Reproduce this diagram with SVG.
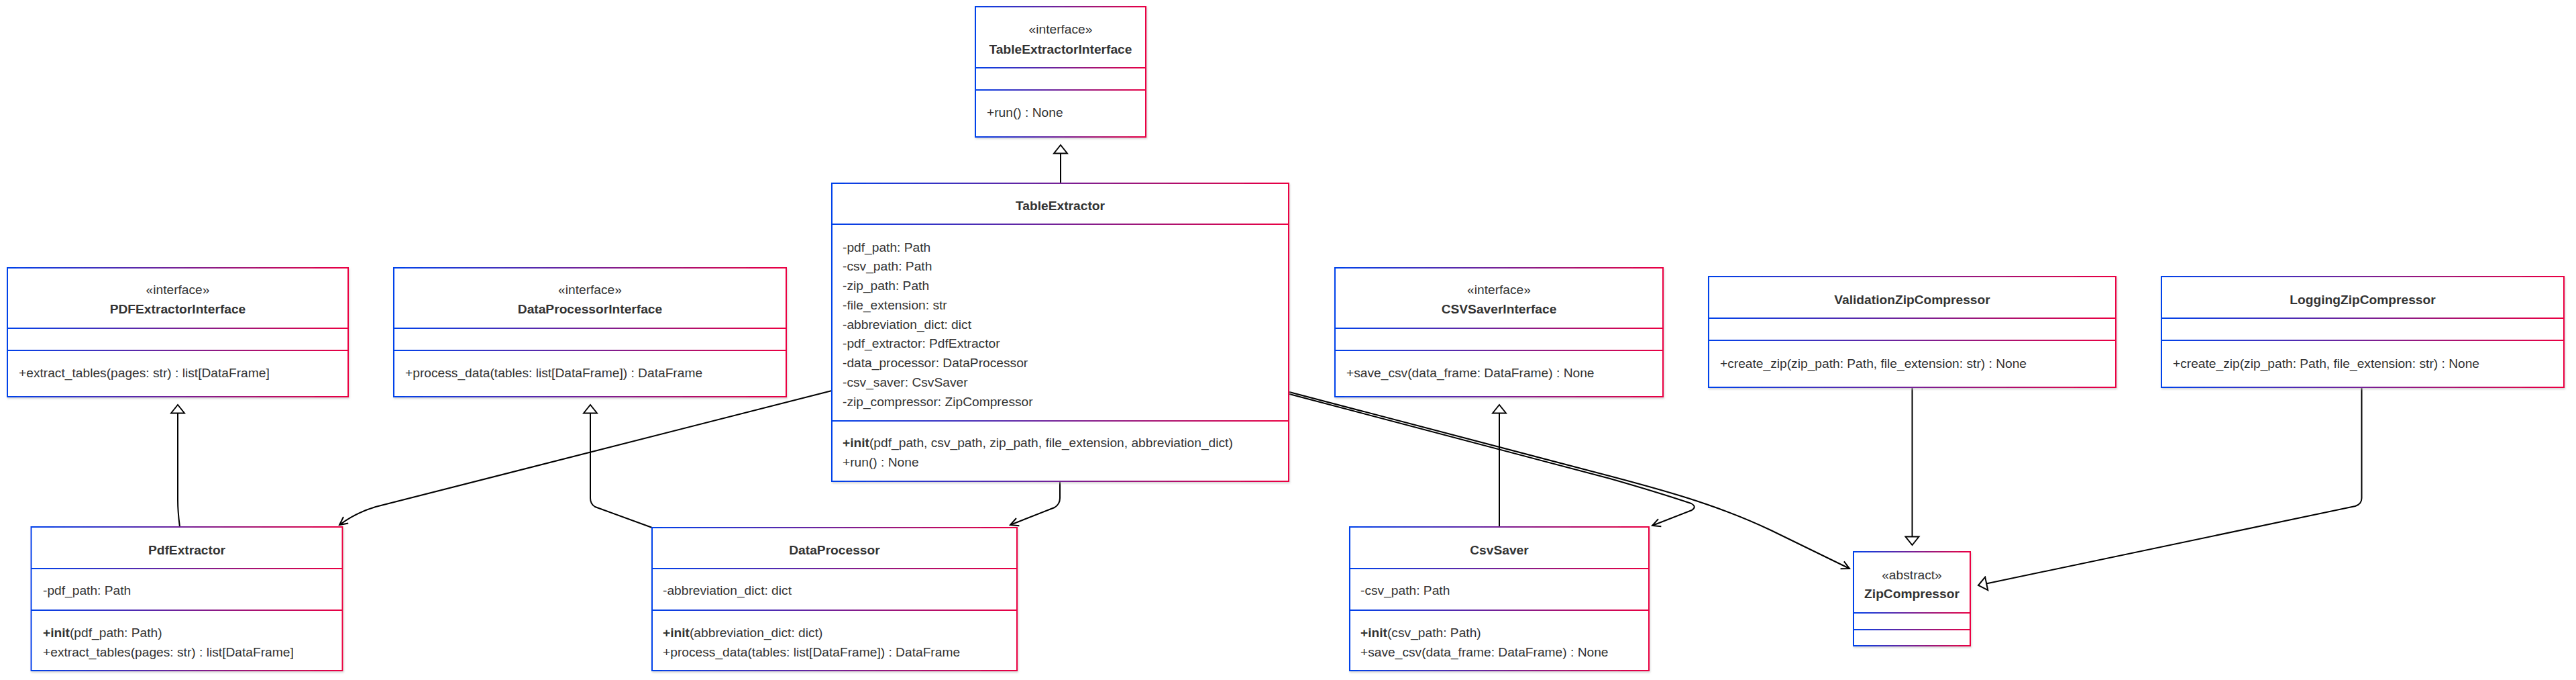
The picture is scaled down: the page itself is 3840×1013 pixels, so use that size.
<svg xmlns="http://www.w3.org/2000/svg" width="3840" height="1013" viewBox="0 0 3840 1013">
<style>
.box{fill:#fff;stroke:url(#grad);stroke-width:2;filter:url(#shadow)}
.dv{fill:url(#grad)}
.t{font-family:"Liberation Sans",Arial,Helvetica,sans-serif;font-size:19.2px;fill:#333}
.b{font-weight:bold}
.c{text-anchor:middle}
.edge{fill:none;stroke:#000;stroke-width:2}
.ext{marker-end:url(#tri)}
.dep{marker-end:url(#vee)}
</style>
<defs>
<linearGradient id="grad" x1="0" y1="0" x2="1" y2="0">
<stop offset="0" stop-color="#0042eb"/>
<stop offset="1" stop-color="#eb0042"/>
</linearGradient>
<filter id="shadow" x="-5%" y="-5%" width="110%" height="115%">
<feDropShadow dx="1" dy="2" stdDeviation="1.5" flood-color="#b9b9b9" flood-opacity="0.6"/>
</filter>
<marker id="tri" viewBox="0 0 16 24" refX="14" refY="12" markerWidth="16" markerHeight="24" markerUnits="userSpaceOnUse" orient="auto">
<path d="M1.5,2 L14,12 L1.5,22 Z" fill="#fff" stroke="#000" stroke-width="2"/>
</marker>
<marker id="vee" viewBox="0 0 16 16" refX="14" refY="8" markerWidth="16" markerHeight="16" markerUnits="userSpaceOnUse" orient="auto">
<path d="M2,2 L14,8 L2,14" fill="none" stroke="#000" stroke-width="2"/>
</marker>
</defs>

<g id="connectors">
<path class="edge ext" d="M1581,273 L1581,216"/>
<path class="edge ext" d="M268,785 C266,770 265,760 265,745 L265,603"/>
<path class="edge ext" d="M972,786 L887,755 Q880,751 880,742 L880,603"/>
<path class="edge ext" d="M2235,785 L2235,603"/>
<path class="edge ext" d="M2850.5,577 L2850.5,812"/>
<path class="edge ext" d="M3520.5,577 L3520.5,742 Q3520.5,751 3511,754 L2949,872"/>
<path class="edge dep" d="M1240,582 L560,755 Q530,764 506,782"/>
<path class="edge dep" d="M1580,717 L1580,742 Q1580,751 1572,756 L1506,782"/>
<path class="edge dep" d="M1922,587 L2400,713 Q2470,733 2521,750 Q2530,755 2522,760 L2463,783"/>
<path class="edge dep" d="M1922,584 L2380,704 C2480,730 2560,752 2640,790 L2757,847"/>
</g>

<g id="TableExtractorInterface">
<rect class="box" x="1454" y="10" width="254" height="194"/>
<rect class="dv" x="1454" y="100" width="254" height="2"/>
<rect class="dv" x="1454" y="133" width="254" height="2"/>
<text class="t c" x="1581" y="50">«interface»</text>
<text class="t c b" x="1581" y="80">TableExtractorInterface</text>
<text class="t" x="1471" y="173.5">+run() : None</text>
</g>

<g id="PDFExtractorInterface">
<rect class="box" x="11" y="399" width="508" height="192"/>
<rect class="dv" x="11" y="488" width="508" height="2"/>
<rect class="dv" x="11" y="521" width="508" height="2"/>
<text class="t c" x="265" y="437.5">«interface»</text>
<text class="t c b" x="265" y="466.5">PDFExtractorInterface</text>
<text class="t" x="28" y="561.5">+extract_tables(pages: str) : list[DataFrame]</text>
</g>

<g id="DataProcessorInterface">
<rect class="box" x="587" y="399" width="585" height="192"/>
<rect class="dv" x="587" y="488" width="585" height="2"/>
<rect class="dv" x="587" y="521" width="585" height="2"/>
<text class="t c" x="879.5" y="437.5">«interface»</text>
<text class="t c b" x="879.5" y="466.5">DataProcessorInterface</text>
<text class="t" x="604" y="561.5">+process_data(tables: list[DataFrame]) : DataFrame</text>
</g>

<g id="CSVSaverInterface">
<rect class="box" x="1990" y="399" width="489" height="192"/>
<rect class="dv" x="1990" y="488" width="489" height="2"/>
<rect class="dv" x="1990" y="521" width="489" height="2"/>
<text class="t c" x="2234.5" y="437.5">«interface»</text>
<text class="t c b" x="2234.5" y="466.5">CSVSaverInterface</text>
<text class="t" x="2007" y="561.5">+save_csv(data_frame: DataFrame) : None</text>
</g>

<g id="ValidationZipCompressor">
<rect class="box" x="2547" y="412" width="607" height="165"/>
<rect class="dv" x="2547" y="473" width="607" height="2"/>
<rect class="dv" x="2547" y="506" width="607" height="2"/>
<text class="t c b" x="2850.5" y="452.5">ValidationZipCompressor</text>
<text class="t" x="2564" y="547.5">+create_zip(zip_path: Path, file_extension: str) : None</text>
</g>

<g id="LoggingZipCompressor">
<rect class="box" x="3222" y="412" width="600" height="165"/>
<rect class="dv" x="3222" y="473" width="600" height="2"/>
<rect class="dv" x="3222" y="506" width="600" height="2"/>
<text class="t c b" x="3522" y="452.5">LoggingZipCompressor</text>
<text class="t" x="3239" y="547.5">+create_zip(zip_path: Path, file_extension: str) : None</text>
</g>

<g id="TableExtractor">
<rect class="box" x="1240" y="273" width="681" height="444"/>
<rect class="dv" x="1240" y="333" width="681" height="2"/>
<rect class="dv" x="1240" y="626" width="681" height="2"/>
<text class="t c b" x="1580.5" y="312.5">TableExtractor</text>
<text class="t" x="1256" y="374.5">-pdf_path: Path</text>
<text class="t" x="1256" y="403.25">-csv_path: Path</text>
<text class="t" x="1256" y="432">-zip_path: Path</text>
<text class="t" x="1256" y="460.75">-file_extension: str</text>
<text class="t" x="1256" y="489.5">-abbreviation_dict: dict</text>
<text class="t" x="1256" y="518.25">-pdf_extractor: PdfExtractor</text>
<text class="t" x="1256" y="547">-data_processor: DataProcessor</text>
<text class="t" x="1256" y="575.75">-csv_saver: CsvSaver</text>
<text class="t" x="1256" y="604.5">-zip_compressor: ZipCompressor</text>
<text class="t" x="1256" y="665.5"><tspan class="b">+init</tspan>(pdf_path, csv_path, zip_path, file_extension, abbreviation_dict)</text>
<text class="t" x="1256" y="694.5">+run() : None</text>
</g>

<g id="PdfExtractor">
<rect class="box" x="46.5" y="785" width="464" height="214"/>
<rect class="dv" x="46.5" y="846" width="464" height="2"/>
<rect class="dv" x="46.5" y="908" width="464" height="2"/>
<text class="t c b" x="278.5" y="825.5">PdfExtractor</text>
<text class="t" x="64" y="885.5">-pdf_path: Path</text>
<text class="t" x="64" y="948.5"><tspan class="b">+init</tspan>(pdf_path: Path)</text>
<text class="t" x="64" y="977.5">+extract_tables(pages: str) : list[DataFrame]</text>
</g>

<g id="DataProcessor">
<rect class="box" x="972" y="786" width="544" height="213"/>
<rect class="dv" x="972" y="846" width="544" height="2"/>
<rect class="dv" x="972" y="908" width="544" height="2"/>
<text class="t c b" x="1244" y="825.5">DataProcessor</text>
<text class="t" x="988" y="885.5">-abbreviation_dict: dict</text>
<text class="t" x="988" y="948.5"><tspan class="b">+init</tspan>(abbreviation_dict: dict)</text>
<text class="t" x="988" y="977.5">+process_data(tables: list[DataFrame]) : DataFrame</text>
</g>

<g id="CsvSaver">
<rect class="box" x="2012" y="785" width="446" height="214"/>
<rect class="dv" x="2012" y="846" width="446" height="2"/>
<rect class="dv" x="2012" y="908" width="446" height="2"/>
<text class="t c b" x="2235" y="825.5">CsvSaver</text>
<text class="t" x="2028" y="885.5">-csv_path: Path</text>
<text class="t" x="2028" y="948.5"><tspan class="b">+init</tspan>(csv_path: Path)</text>
<text class="t" x="2028" y="977.5">+save_csv(data_frame: DataFrame) : None</text>
</g>

<g id="ZipCompressor">
<rect class="box" x="2763" y="822" width="174" height="140"/>
<rect class="dv" x="2763" y="912" width="174" height="2"/>
<rect class="dv" x="2763" y="937" width="174" height="2"/>
<text class="t c" x="2850" y="862.5">«abstract»</text>
<text class="t c b" x="2850" y="890.5">ZipCompressor</text>
</g>
</svg>
